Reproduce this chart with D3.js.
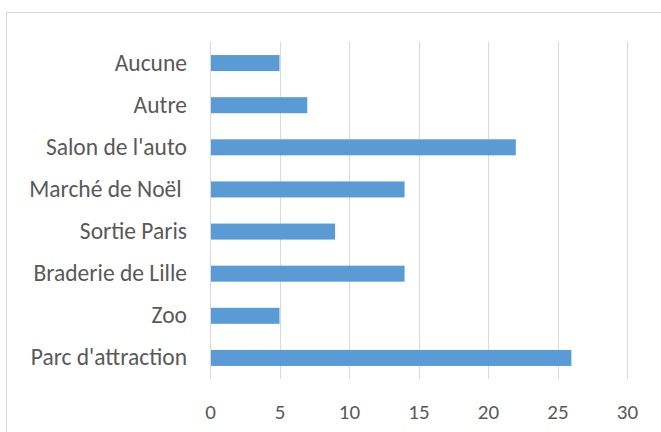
<!DOCTYPE html>
<html lang="fr">
<head>
  <meta charset="UTF-8">
  <title>Sorties</title>
  <script src="https://cdn.jsdelivr.net/npm/d3@7"></script>
  <style>
    body { margin: 0; background: #fff; }
    text { font-family: Carlito, Calibri, Lato, sans-serif; fill: #595959; white-space: pre; }
  </style>
</head>
<body>
  <div id="chart"></div>

  <script>
    // categories listed bottom to top, like the Excel source
    const categories = ["Parc d'attraction", "Zoo", "Braderie de Lille", "Sortie Paris",
      "Marché de Noël ", "Salon de l'auto", "Autre", "Aucune"];
    const values = [26, 5, 14, 9, 14, 22, 7, 5];
    const xTicks = [0, 5, 10, 15, 20, 25, 30];

    const width = 661,
      height = 432;
    const margin = {top: 42, right: 34, bottom: 53, left: 210};

    const svg = d3.select('#chart')
      .append('svg')
        .attr('width', width)
        .attr('height', height);

    // outer chart border (runs off the right and bottom edge)
    svg.append('rect')
      .attr('x', 6.5)
      .attr('y', 12.5)
      .attr('width', 700)
      .attr('height', 500)
      .attr('fill', 'none')
      .attr('stroke', '#d9d9d9');

    const x = d3.scaleLinear()
      .domain([0, 30])
      .range([margin.left, 627]);

    const y = d3.scaleBand()
      .domain(categories.slice().reverse())
      .range([margin.top, height - margin.bottom])
      .paddingInner(0.62)
      .paddingOuter(0.31);

    // vertical gridlines
    svg.append('g')
      .selectAll('line')
      .data(xTicks)
      .join('line')
        .attr('x1', d => Math.round(x(d)) + 0.5)
        .attr('x2', d => Math.round(x(d)) + 0.5)
        .attr('y1', margin.top)
        .attr('y2', height - margin.bottom)
        .attr('stroke', '#d9d9d9')
        .attr('stroke-width', 1);

    svg.append('g')
      .selectAll('rect')
      .data(categories)
      .join('rect')
        .attr('x', x(0) + 1)
        .attr('y', d => y(d))
        .attr('width', (d, i) => x(values[i]) - x(0) - 1)
        .attr('height', y.bandwidth())
        .attr('fill', '#5b9bd5');

    // category labels
    const yAxis = svg.append('g')
      .attr('transform', `translate(${margin.left},0)`)
      .call(d3.axisLeft(y).tickSize(0).tickPadding(23));
    yAxis.select('.domain').remove();
    yAxis.selectAll('text')
      .style('font-size', '23.5px')
      .attr('fill', '#595959');

    // value labels
    const xAxis = svg.append('g')
      .attr('transform', `translate(0,${height - margin.bottom})`)
      .call(d3.axisBottom(x).tickValues(xTicks).tickSize(0).tickPadding(25));
    xAxis.select('.domain').remove();
    xAxis.selectAll('text')
      .style('font-size', '21px')
      .attr('fill', '#595959');
  </script>
</body>
</html>
